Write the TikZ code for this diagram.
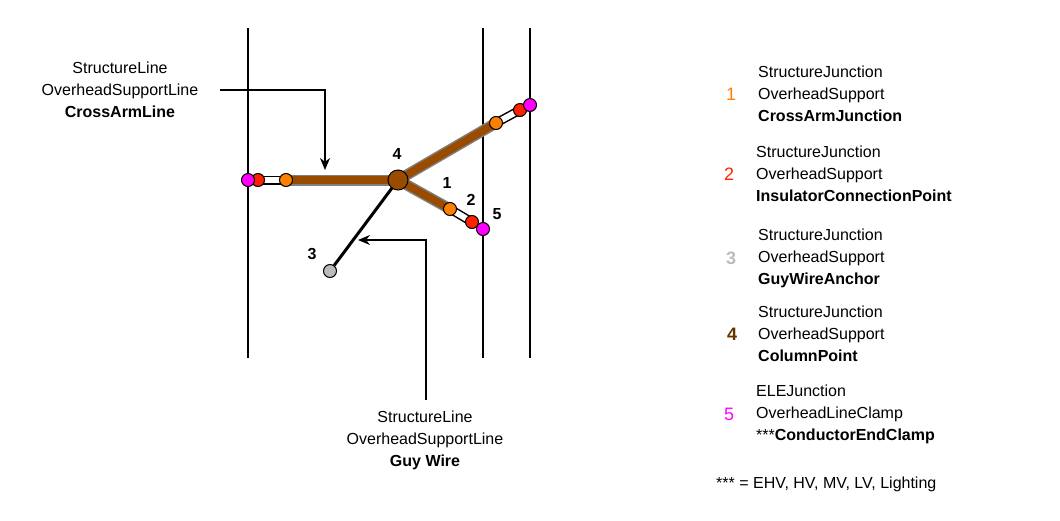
\documentclass[tikz,border=0pt]{standalone}
\usepackage{fontspec}
\setmainfont{Liberation Sans}
\usetikzlibrary{arrows.meta}
\definecolor{arm}{HTML}{994C00}
\definecolor{org}{HTML}{FF8000}
\definecolor{rd}{HTML}{FF2200}
\definecolor{mg}{HTML}{FF00FF}
\definecolor{gy}{HTML}{BBBBBB}
\definecolor{br}{HTML}{663300}
\begin{document}
\begin{tikzpicture}[x=1pt,y=-1pt,
  txt/.style={font=\fontsize{16}{22}\selectfont,align=center,inner sep=0pt},
  ltxt/.style={font=\fontsize{16}{22}\selectfont,align=left,inner sep=0pt,anchor=west},
  num/.style={font=\fontsize{16}{20}\selectfont\bfseries,inner sep=0pt},
  lnum/.style={font=\fontsize{18}{20}\selectfont,inner sep=0pt},
  pt/.style={circle,draw=black,line width=1pt,minimum size=13pt,inner sep=0pt},
  pole/.style={line width=1.5pt},
  call/.style={line width=1.2pt,-{Stealth[length=12pt,width=10pt]}}]
\useasboundingbox (0,0) rectangle (1060,520);
% poles
\coordinate (p1t) at (248,28); \coordinate (p1b) at (248,358);
\coordinate (p2t) at (483,28); \coordinate (p2b) at (483,358);
\coordinate (p3t) at (530,28); \coordinate (p3b) at (530,358);
\draw[pole] (p1t)--(p1b); \draw[pole] (p2t)--(p2b); \draw[pole] (p3t)--(p3b);
% nodes
\coordinate (c) at (398,180);
\coordinate (lo) at (286,180); \coordinate (lr) at (258,180);
\coordinate (uo) at (496,123); \coordinate (ur) at (520,110);
\coordinate (do) at (450,209); \coordinate (dr) at (472,222);
% guy wire
\node[pt,fill=gy] (g) at (330,271) {};
\draw[line width=3pt] (c)--(g);
% arms
\foreach \e in {lo,uo,do}{\draw[gray,line width=11pt] (c)--(\e); \draw[arm,line width=8pt] (c)--(\e);}
\foreach \a/\b in {lo/lr,uo/ur,do/dr}{\draw[line width=9pt] (\a)--(\b); \draw[white,line width=6pt] (\a)--(\b);}
\node[pt,fill=org] (o1) at (lo) {};
\node[pt,fill=org] (o2) at (uo) {};
\node[pt,fill=org] (o3) at (do) {};
\node[pt,fill=rd] (r1) at (lr) {};
\node[pt,fill=rd] (r2) at (ur) {};
\node[pt,fill=rd] (r3) at (dr) {};
\node[pt,fill=mg] (m1) at (248,180) {};
\node[pt,fill=mg] (m2) at (530,105) {};
\node[pt,fill=mg] (m3) at (483,229) {};
\node[pt,fill=arm,minimum size=20pt] (j) at (c) {};
% labels
\node[num] at (397,154) {4};
\node[num] at (447,183) {1};
\node[num] at (471,200) {2};
\node[num] at (497,214) {5};
\node[num] at (312,254) {3};
% callouts
\node[txt] (t1) at (120,90) {StructureLine\\OverheadSupportLine\\\textbf{CrossArmLine}};
\coordinate (a1) at (220,90); \coordinate (a1b) at (325,170);
\draw[call] (a1) -| (a1b);
\node[txt] (t2) at (425,440) {StructureLine\\OverheadSupportLine\\\textbf{Guy Wire}};
\coordinate (a2) at (426,400); \coordinate (a2b) at (358,240);
\draw[call] (a2) |- (a2b);
% legend
\node[lnum,text=org] (n1) at (731,94) {1};
\node[ltxt] (l1) at (758,94) {StructureJunction\\OverheadSupport\\\textbf{CrossArmJunction}};
\node[lnum,text=rd] (n2) at (729,174) {2};
\node[ltxt] (l2) at (756,174) {StructureJunction\\OverheadSupport\\\textbf{InsulatorConnectionPoint}};
\node[lnum,text=gy,font=\fontsize{18}{20}\selectfont\bfseries] (n3) at (731,258) {3};
\node[ltxt] (l3) at (758,258) {StructureJunction\\OverheadSupport\\\textbf{GuyWireAnchor}};
\node[lnum,text=br,font=\fontsize{18}{20}\selectfont\bfseries] (n4) at (732,334) {4};
\node[ltxt] (l4) at (758,334) {StructureJunction\\OverheadSupport\\\textbf{ColumnPoint}};
\node[lnum,text=mg] (n5) at (729,414) {5};
\node[ltxt] (l5) at (756,414) {ELEJunction\\OverheadLineClamp\\***\textbf{ConductorEndClamp}};
\node[ltxt] (foot) at (716,484) {*** = EHV, HV, MV, LV, Lighting};
\end{tikzpicture}
\end{document}
